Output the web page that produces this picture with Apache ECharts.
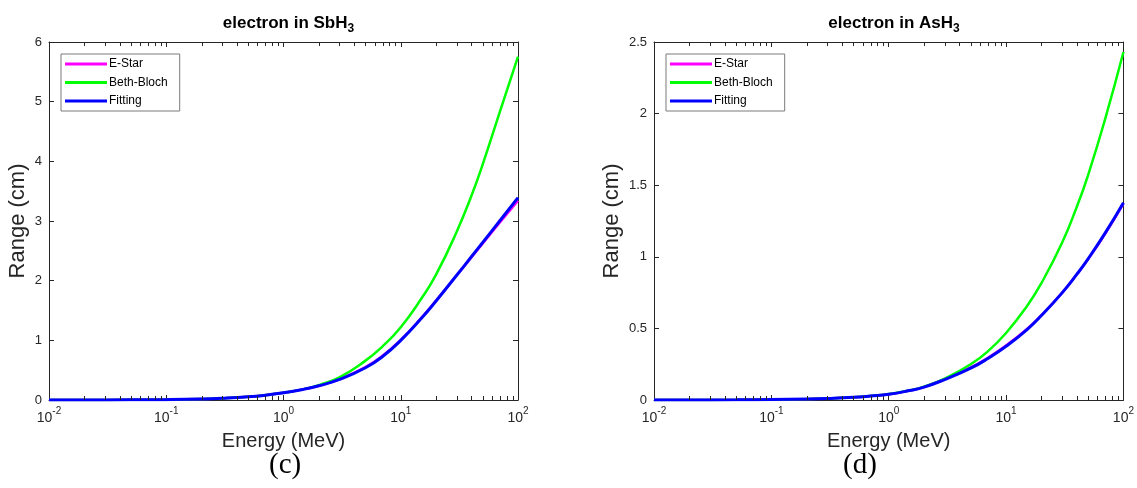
<!DOCTYPE html>
<html>
<head>
<meta charset="utf-8">
<script src="https://cdn.jsdelivr.net/npm/echarts@6/dist/echarts.min.js"></script>
<style>
html,body{margin:0;padding:0;background:#fff;}
#chart{width:1137px;height:488px;}
</style>
</head>
<body>
<div id="chart"></div>
<script>
// ---- data ----
const energy = [0.01,0.02,0.05,0.1,0.2,0.3,0.5,0.7,1,1.5,2,3,5,7,10,15,20,30,40,50,70,100];
// electron in SbH3
const sbEStar   = [0.0002,0.0006,0.0025,0.006,0.016,0.028,0.053,0.08,0.12,0.182,0.24,0.348,0.55,0.74,1.008,1.375,1.665,2.09,2.39,2.625,2.975,3.34];
const sbBethe   = [0.0002,0.0006,0.0025,0.006,0.016,0.028,0.053,0.08,0.12,0.182,0.25,0.38,0.66,0.90,1.22,1.70,2.10,2.82,3.42,3.95,4.83,5.756];
const sbFitting = [0.0002,0.0006,0.0025,0.006,0.016,0.028,0.053,0.08,0.12,0.182,0.238,0.344,0.54,0.73,1.0,1.37,1.66,2.09,2.40,2.64,3.005,3.393];
// electron in AsH3
const asEStar   = [0.0001,0.0003,0.0012,0.0033,0.007,0.011,0.019,0.028,0.04,0.066,0.091,0.147,0.227,0.295,0.38,0.494,0.592,0.748,0.876,0.984,1.163,1.372];
const asBethe   = [0.0001,0.0003,0.0012,0.0033,0.007,0.011,0.019,0.028,0.042,0.066,0.093,0.15,0.25,0.34,0.468,0.653,0.816,1.098,1.348,1.571,1.965,2.43];
const asFitting = [0.0001,0.0003,0.0012,0.0033,0.007,0.011,0.019,0.028,0.04,0.066,0.09,0.143,0.222,0.29,0.375,0.49,0.59,0.748,0.877,0.986,1.167,1.378];
const minorTicks = [0.02,0.03,0.04,0.05,0.06,0.07,0.08,0.09,0.2,0.3,0.4,0.5,0.6,0.7,0.8,0.9,2,3,4,5,6,7,8,9,20,30,40,50,60,70,80,90];
const seriesNames = ['E-Star','Beth-Bloch','Fitting'];
const colors = ['#ff00ff','#00ff00','#0000ff'];
const titles = [['electron in SbH','3'],['electron in AsH','3']];
const yMax = [6, 2.5];
const yInterval = [1, 0.5];
const captions = ['(c)','(d)'];

// ---- layout ----
const grids = [
  {left:49, top:42, width:469, height:358},
  {left:654, top:42, width:470, height:358}
];
const axisColor = '#262626';
const font = 'Liberation Sans, Arial, Helvetica, sans-serif';

function pair(a){ return energy.map((e,i)=>[e,a[i]]); }
const dataSets = [[sbEStar,sbBethe,sbFitting],[asEStar,asBethe,asFitting]];

const xAxes = [], yAxes = [], series = [], legends = [], titleOpts = [];
grids.forEach((g,gi)=>{
  const xBase = {
    type:'log', logBase:10, min:0.01, max:100, gridIndex:gi,
    axisLine:{show:true,onZero:false,lineStyle:{color:axisColor,width:1}},
    axisTick:{show:true,inside:true,length:5,lineStyle:{color:axisColor}},
    splitLine:{show:false}
  };
  xAxes.push(Object.assign({}, xBase, {
    position:'bottom',
    name:'Energy (MeV)', nameLocation:'middle', nameGap:31,
    nameTextStyle:{fontFamily:font,fontSize:20,color:axisColor},
    axisLabel:{
      margin:6, color:axisColor, fontFamily:font,
      formatter:function(v){ const ex = Math.round(Math.log10(v)); return '{b|10}{s|'+ex+'}'; },
      rich:{
        b:{fontSize:14,fontFamily:font,color:axisColor,verticalAlign:'bottom',lineHeight:19},
        s:{fontSize:10,fontFamily:font,color:axisColor,verticalAlign:'top',lineHeight:19,padding:[0,0,8,0]}
      }
    }
  }));
  xAxes.push(Object.assign({}, xBase, {position:'top', axisLabel:{show:false}}));
  const yBase = {
    type:'value', min:0, max:yMax[gi], interval:yInterval[gi], gridIndex:gi,
    axisLine:{show:true,onZero:false,lineStyle:{color:axisColor,width:1}},
    axisTick:{show:true,inside:true,length:5,lineStyle:{color:axisColor}},
    splitLine:{show:false}
  };
  yAxes.push(Object.assign({}, yBase, {
    position:'left',
    name:'Range (cm)', nameLocation:'middle', nameGap: gi===0?20:31,
    nameTextStyle:{fontFamily:font,fontSize:22,color:axisColor},
    axisLabel:{margin:7,color:axisColor,fontFamily:font,fontSize:13}
  }));
  yAxes.push(Object.assign({}, yBase, {position:'right', axisLabel:{show:false}}));

  const xi = gi*2, yi = gi*2;
  dataSets[gi].forEach((arr,si)=>{
    series.push({
      name:seriesNames[si], type:'line', xAxisIndex:xi, yAxisIndex:yi,
      data:pair(arr), showSymbol:false, symbol:'none',
      smooth:0.5,
      lineStyle:{color:colors[si], width: si===2?3:2.5},
      itemStyle:{color:colors[si]},
      z: 2+si, animation:false
    });
  });

  legends.push({
    data:seriesNames, orient:'vertical',
    left: g.left+12, top: 54,
    icon:'rect', itemWidth:42, itemHeight:3, itemGap:4.5,
    padding:[3,12,3,4],
    borderColor:'#7a7a7a', borderWidth:1, backgroundColor:'#fff',
    textStyle:{fontFamily:font,fontSize:12,lineHeight:14,color:'#000',padding:[0,0,0,-3]},
    selectedMode:false
  });

  titleOpts.push({
    text:'{t|'+titles[gi][0]+'}{sub|'+titles[gi][1]+'}',
    left: g.left + g.width/2, top: 10, textAlign:'center',
    textStyle:{
      rich:{
        t:{fontFamily:font,fontSize:17,fontWeight:'bold',color:'#000',lineHeight:20,verticalAlign:'top'},
        sub:{fontFamily:font,fontSize:12,fontWeight:'bold',color:'#000',lineHeight:20,verticalAlign:'bottom',padding:[11,0,0,0]}
      }
    }
  });
});

const chart = echarts.init(document.getElementById('chart'), null, {renderer:'canvas'});
chart.setOption({
  animation:false,
  backgroundColor:'#fff',
  title:titleOpts,
  legend:legends,
  grid:grids.map(g=>Object.assign({containLabel:false},g)),
  xAxis:xAxes,
  yAxis:yAxes,
  series:series
});

// minor ticks on the log axes, positioned through the axis scales
const graphics = [];
grids.forEach((g,gi)=>{
  const xi = gi*2, yi = gi*2;
  const yb = chart.convertToPixel({yAxisIndex:yi}, 0);
  const yt = chart.convertToPixel({yAxisIndex:yi}, yMax[gi]);
  minorTicks.forEach(v=>{
    const x = Math.round(chart.convertToPixel({xAxisIndex:xi}, v)) + 0.5;
    graphics.push({type:'line', silent:true, z:100, shape:{x1:x,y1:yb,x2:x,y2:yb-4}, style:{stroke:axisColor,lineWidth:1}});
    graphics.push({type:'line', silent:true, z:100, shape:{x1:x,y1:yt,x2:x,y2:yt+4}, style:{stroke:axisColor,lineWidth:1}});
  });
});
graphics.push({type:'text', left:269, top:451, style:{text:captions[0], font:'29px "Liberation Serif", "Times New Roman", serif', fill:'#000'}});
graphics.push({type:'text', left:843, top:451, style:{text:captions[1], font:'29px "Liberation Serif", "Times New Roman", serif', fill:'#000'}});
chart.setOption({graphic:graphics});
</script>
</body>
</html>
